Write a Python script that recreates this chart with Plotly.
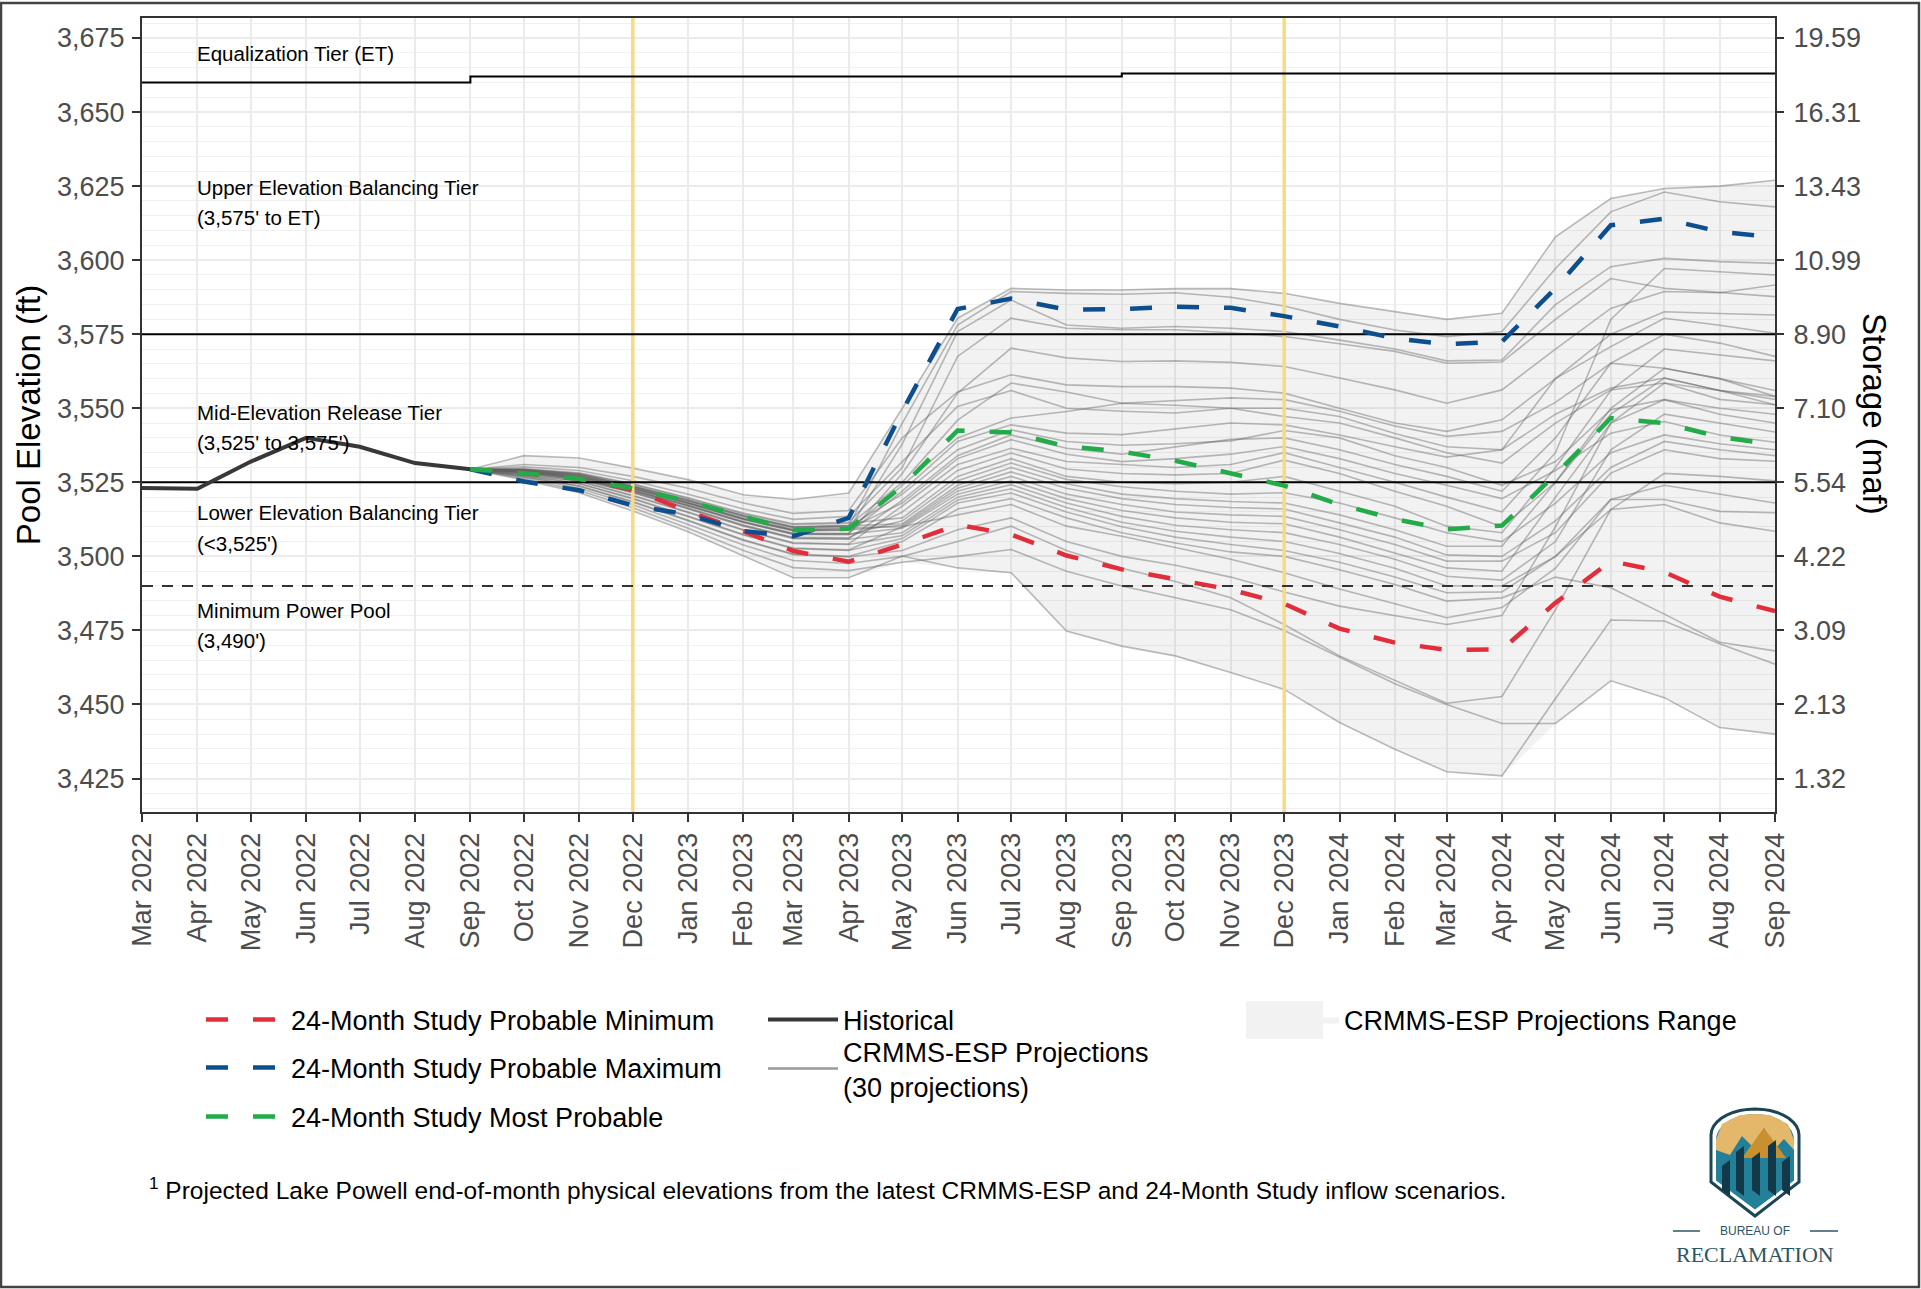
import numpy as np
import pandas as pd
import plotly.graph_objects as go

# ------------------------------------------------------------------ data
months = pd.date_range("2022-03-01", "2024-09-01", freq="MS")
hist_months = months[:7]      # Mar 2022 .. Sep 2022
proj_months = months[6:]      # Sep 2022 .. Sep 2024

historical = [3523.1, 3522.8, 3532.0, 3540.0, 3537.0, 3531.5, 3529.4]

prob_min = [3529.4, 3528.1, 3526.2, 3522.5, 3515.2, 3508.5, 3501.8, 3498.2, 3504.0, 3510.7,
            3507.4, 3500.3, 3495.6, 3492.4, 3488.8, 3484.0, 3475.6, 3470.9, 3468.4, 3468.6,
            3484.3, 3498.4, 3494.7, 3486.4, 3481.5]
prob_max = [3529.4, 3525.3, 3522.3, 3517.2, 3514.1, 3508.5, 3506.8, 3513.0, 3549.0, 3583.5,
            3587.0, 3583.3, 3583.5, 3584.3, 3583.9, 3581.1, 3577.6, 3573.6, 3571.6, 3572.5,
            3590.5, 3611.8, 3614.0, 3609.6, 3607.7]
most_prob = [3529.4, 3528.1, 3526.2, 3522.9, 3518.6, 3513.5, 3508.8, 3509.3, 3523.7, 3542.5,
             3541.8, 3537.1, 3535.4, 3532.3, 3528.1, 3523.9, 3517.5, 3512.6, 3509.1, 3510.4,
             3527.6, 3546.7, 3545.0, 3540.3, 3537.7]

esp_01 = [3529.4, 3534.0, 3533.2, 3529.8, 3525.9, 3520.8, 3519.2, 3521.4, 3550.0, 3580.4, 3590.5, 3589.9, 3589.9, 3590.4, 3590.4, 3588.8, 3585.4, 3582.6, 3580.0, 3582.1, 3607.9, 3620.8, 3624.2, 3625.0, 3627.0]
esp_02 = [3529.4, 3529.2, 3527.6, 3523.6, 3518.8, 3513.6, 3509.8, 3510.2, 3545.0, 3578.1, 3589.4, 3588.8, 3588.5, 3589.0, 3587.5, 3584.5, 3580.0, 3576.4, 3574.2, 3575.9, 3597.2, 3616.3, 3623.0, 3619.7, 3618.0]
esp_03 = [3529.4, 3528.9, 3527.0, 3523.0, 3518.0, 3512.6, 3508.8, 3509.0, 3538.0, 3575.9, 3586.5, 3578.1, 3577.0, 3577.6, 3577.0, 3575.9, 3573.0, 3570.0, 3566.0, 3566.3, 3585.0, 3597.8, 3600.6, 3599.5, 3598.9]
esp_04 = [3529.4, 3529.6, 3528.2, 3524.5, 3519.8, 3514.6, 3511.0, 3511.5, 3530.0, 3567.5, 3580.4, 3577.0, 3576.5, 3576.5, 3575.5, 3574.2, 3571.8, 3569.2, 3565.2, 3565.6, 3580.0, 3593.8, 3590.5, 3589.0, 3587.7]
esp_05 = [3529.4, 3528.5, 3526.5, 3522.3, 3517.2, 3511.6, 3507.6, 3507.6, 3528.0, 3555.1, 3570.3, 3567.0, 3565.8, 3566.0, 3565.5, 3564.1, 3560.2, 3556.2, 3551.7, 3556.2, 3570.0, 3583.7, 3589.4, 3589.0, 3591.6]
esp_06 = [3529.4, 3531.0, 3530.0, 3527.0, 3523.0, 3518.0, 3514.5, 3515.5, 3540.0, 3555.5, 3561.3, 3557.9, 3557.3, 3557.3, 3556.8, 3555.1, 3550.0, 3545.0, 3542.2, 3546.1, 3560.0, 3570.8, 3580.4, 3578.0, 3575.3]
esp_07 = [3529.4, 3529.3, 3527.8, 3523.8, 3519.0, 3513.8, 3510.0, 3510.5, 3525.0, 3546.0, 3558.5, 3555.5, 3551.7, 3552.5, 3553.5, 3552.9, 3549.0, 3544.0, 3540.5, 3542.2, 3552.0, 3565.2, 3563.5, 3560.0, 3556.0]
esp_08 = [3529.4, 3530.2, 3529.0, 3525.5, 3521.0, 3516.0, 3512.5, 3513.5, 3532.0, 3550.6, 3556.0, 3550.0, 3549.0, 3548.4, 3550.0, 3550.0, 3547.2, 3541.5, 3537.0, 3536.0, 3548.0, 3556.8, 3560.2, 3556.0, 3554.0]
esp_09 = [3529.4, 3528.8, 3526.9, 3522.8, 3517.8, 3512.4, 3508.6, 3508.8, 3524.0, 3540.0, 3546.7, 3548.9, 3551.7, 3551.0, 3550.0, 3547.2, 3545.0, 3540.0, 3535.0, 3531.5, 3545.0, 3556.2, 3558.5, 3553.0, 3551.2]
esp_10 = [3529.4, 3528.6, 3526.6, 3522.4, 3517.3, 3511.8, 3507.8, 3507.9, 3522.0, 3538.8, 3544.4, 3541.6, 3541.1, 3543.0, 3545.0, 3544.4, 3541.0, 3537.0, 3533.5, 3536.0, 3560.0, 3575.0, 3582.6, 3582.0, 3581.5]
esp_11 = [3529.4, 3529.1, 3527.5, 3523.5, 3518.6, 3513.4, 3509.6, 3510.0, 3521.0, 3536.0, 3542.7, 3538.8, 3537.5, 3538.0, 3539.0, 3542.5, 3540.0, 3534.0, 3530.0, 3524.0, 3532.0, 3549.5, 3552.9, 3548.0, 3545.0]
esp_12 = [3529.4, 3528.2, 3526.0, 3521.6, 3516.2, 3510.4, 3506.2, 3506.0, 3519.0, 3534.0, 3541.0, 3536.5, 3534.5, 3537.0, 3539.5, 3540.0, 3536.0, 3531.0, 3527.0, 3522.0, 3540.0, 3565.2, 3575.0, 3572.0, 3567.5]
esp_13 = [3529.4, 3529.0, 3527.1, 3523.1, 3518.1, 3512.8, 3509.0, 3509.3, 3518.0, 3533.0, 3539.4, 3534.5, 3532.0, 3533.0, 3534.5, 3537.1, 3533.0, 3528.0, 3524.0, 3519.5, 3529.0, 3541.6, 3545.5, 3541.0, 3538.5]
esp_14 = [3529.4, 3527.8, 3525.4, 3520.6, 3515.0, 3509.0, 3504.6, 3504.2, 3517.0, 3531.0, 3536.5, 3532.0, 3531.0, 3530.0, 3531.0, 3535.0, 3530.0, 3525.0, 3520.0, 3515.0, 3535.0, 3580.0, 3597.2, 3596.0, 3595.0]
esp_15 = [3529.4, 3528.3, 3526.1, 3521.8, 3516.4, 3510.6, 3506.4, 3506.3, 3515.0, 3529.0, 3534.9, 3529.5, 3528.0, 3527.5, 3528.0, 3532.5, 3528.0, 3522.0, 3516.9, 3510.0, 3525.0, 3550.0, 3563.5, 3560.0, 3554.0]
esp_16 = [3529.4, 3529.5, 3528.0, 3524.3, 3519.5, 3514.3, 3510.7, 3511.2, 3513.0, 3527.0, 3533.0, 3527.0, 3525.0, 3524.5, 3525.0, 3527.0, 3522.0, 3516.9, 3510.2, 3508.0, 3530.0, 3556.0, 3570.0, 3568.0, 3566.0]
esp_17 = [3529.4, 3528.4, 3526.4, 3522.1, 3517.0, 3511.4, 3507.4, 3507.3, 3512.0, 3525.5, 3531.5, 3526.0, 3523.5, 3522.0, 3521.0, 3521.5, 3518.0, 3513.0, 3508.0, 3505.0, 3518.0, 3535.0, 3541.0, 3538.0, 3536.0]
esp_18 = [3529.4, 3529.2, 3527.7, 3523.7, 3518.9, 3513.7, 3509.9, 3510.3, 3511.0, 3524.0, 3530.0, 3524.5, 3521.0, 3519.5, 3518.5, 3518.0, 3514.0, 3509.0, 3503.4, 3503.4, 3525.0, 3548.0, 3560.2, 3556.0, 3551.2]
esp_19 = [3529.4, 3528.9, 3526.9, 3522.9, 3517.9, 3512.5, 3508.7, 3508.9, 3510.5, 3523.0, 3528.5, 3523.0, 3519.5, 3517.5, 3516.5, 3516.0, 3511.3, 3506.5, 3500.5, 3500.0, 3512.0, 3530.0, 3538.8, 3536.0, 3534.0]
esp_20 = [3529.4, 3527.4, 3524.6, 3519.6, 3513.6, 3507.4, 3502.8, 3502.2, 3510.0, 3522.0, 3527.0, 3521.0, 3517.5, 3515.0, 3514.0, 3513.5, 3509.0, 3504.0, 3498.4, 3498.4, 3508.0, 3528.1, 3536.0, 3533.0, 3532.1]
esp_21 = [3529.4, 3528.5, 3526.5, 3522.2, 3517.1, 3511.5, 3507.5, 3507.5, 3509.5, 3521.0, 3525.5, 3519.5, 3515.5, 3513.0, 3511.5, 3511.0, 3506.5, 3501.0, 3496.1, 3495.0, 3520.0, 3545.0, 3552.9, 3550.0, 3548.0]
esp_22 = [3529.4, 3528.1, 3525.9, 3521.5, 3516.0, 3510.2, 3506.0, 3505.8, 3508.0, 3520.0, 3524.2, 3518.0, 3513.5, 3510.5, 3509.0, 3508.0, 3504.0, 3499.0, 3493.3, 3492.0, 3505.0, 3536.0, 3548.0, 3545.0, 3542.0]
esp_23 = [3529.4, 3527.7, 3525.3, 3520.4, 3514.8, 3508.8, 3504.4, 3504.0, 3507.0, 3519.0, 3522.8, 3516.5, 3511.5, 3508.5, 3506.5, 3505.0, 3501.0, 3496.0, 3490.0, 3490.0, 3500.0, 3515.8, 3528.0, 3527.0, 3525.5]
esp_24 = [3529.4, 3527.3, 3524.5, 3519.4, 3513.4, 3507.2, 3502.6, 3502.0, 3506.0, 3518.0, 3521.4, 3515.0, 3510.0, 3506.5, 3504.0, 3502.0, 3498.0, 3493.0, 3487.7, 3488.0, 3500.0, 3519.2, 3524.0, 3521.0, 3518.0]
esp_25 = [3529.4, 3527.0, 3523.8, 3518.5, 3512.2, 3505.6, 3500.8, 3500.0, 3505.0, 3516.0, 3519.5, 3513.0, 3508.0, 3504.5, 3501.5, 3500.0, 3495.5, 3490.5, 3484.9, 3486.0, 3493.0, 3489.4, 3480.5, 3471.0, 3468.1]
esp_26 = [3529.4, 3529.0, 3527.2, 3523.2, 3518.2, 3512.9, 3509.1, 3509.5, 3510.0, 3514.0, 3517.5, 3510.2, 3506.8, 3503.0, 3499.0, 3494.5, 3489.0, 3484.0, 3479.3, 3482.7, 3496.0, 3519.2, 3519.2, 3515.2, 3514.7]
esp_27 = [3529.4, 3526.9, 3523.7, 3518.3, 3512.0, 3505.4, 3500.6, 3499.8, 3502.0, 3509.0, 3513.0, 3505.0, 3500.0, 3497.0, 3493.0, 3488.0, 3483.2, 3480.0, 3477.0, 3480.0, 3510.0, 3545.0, 3558.5, 3556.0, 3553.0]
esp_28 = [3529.4, 3526.6, 3523.0, 3517.4, 3510.8, 3503.8, 3498.6, 3497.6, 3500.0, 3505.0, 3510.2, 3502.0, 3496.0, 3491.5, 3486.0, 3477.0, 3466.4, 3458.0, 3450.4, 3452.7, 3482.0, 3515.8, 3517.5, 3511.3, 3508.5]
esp_29 = [3529.4, 3526.2, 3522.2, 3516.4, 3509.5, 3502.0, 3496.2, 3495.2, 3498.0, 3500.0, 3502.3, 3495.0, 3490.0, 3486.0, 3482.0, 3475.0, 3466.0, 3457.0, 3450.0, 3443.6, 3443.6, 3458.0, 3452.3, 3442.2, 3440.0]
esp_30 = [3529.4, 3525.8, 3521.5, 3515.3, 3508.3, 3500.1, 3492.8, 3492.8, 3500.1, 3496.1, 3494.5, 3474.8, 3469.7, 3466.4, 3460.8, 3455.1, 3443.9, 3434.9, 3427.3, 3425.9, 3452.0, 3478.5, 3478.2, 3470.5, 3463.6]

esp_runs = [esp_01, esp_02, esp_03, esp_04, esp_05, esp_06, esp_07, esp_08, esp_09, esp_10,
            esp_11, esp_12, esp_13, esp_14, esp_15, esp_16, esp_17, esp_18, esp_19, esp_20,
            esp_21, esp_22, esp_23, esp_24, esp_25, esp_26, esp_27, esp_28, esp_29, esp_30]

et_dates = ["2022-03-01", "2022-09-01", "2023-09-01", "2024-09-01"]
et_elev = [3660, 3662, 3663, 3663]
upper_tier = 3575
lower_tier = 3525
min_power_pool = 3490

elev_ticks = [3425, 3450, 3475, 3500, 3525, 3550, 3575, 3600, 3625, 3650, 3675]
storage_ticks = ["1.32", "2.13", "3.09", "4.22", "5.54", "7.10", "8.90", "10.99", "13.43", "16.31", "19.59"]
year_marks = ["2022-12-01", "2023-12-01"]

# ------------------------------------------------------------------ layout helpers
W, H = 1921, 1289
L, R, T, B = 142, 1775, 18, 812          # plot area in pixels


def px(X):
    return (X - L) / (R - L)


def py(Y):
    return (B - Y) / (B - T)


FONT = "Liberation Sans, Arial, Helvetica, sans-serif"
Y_RANGE = [3413.7, 3681.75]
X_RANGE = [months[0], months[-1]]

RED, BLUE, GREEN = "#E02F3B", "#0D4F8E", "#22AB48"
DASH = "22px,25px"

fig = go.Figure()

# projections range band
runs = np.array(esp_runs)
upper = runs.max(axis=0)
lower = runs.min(axis=0)
fig.add_trace(go.Scatter(
    x=list(proj_months) + list(proj_months[::-1]),
    y=list(upper) + list(lower[::-1]),
    fill="toself", fillcolor="rgba(128,128,128,0.10)",
    line=dict(width=0, color="rgba(0,0,0,0)"),
    mode="lines", showlegend=False, hoverinfo="skip"))
# legend entry for the band (no data of its own)
fig.add_trace(go.Scatter(x=[None], y=[None], fill="toself", fillcolor="#F2F2F2",
                         line=dict(width=0, color="rgba(0,0,0,0)"), mode="lines",
                         name="CRMMS-ESP Projections Range", legend="legend6",
                         hoverinfo="skip"))

# individual CRMMS-ESP runs
for run in esp_runs:
    fig.add_trace(go.Scatter(
        x=proj_months, y=run, mode="lines",
        line=dict(color="rgba(95,95,95,0.42)", width=1.6),
        showlegend=False, hoverinfo="skip"))
# legend key for the runs (no data of its own)
fig.add_trace(go.Scatter(x=[None], y=[None], mode="lines",
                         line=dict(color="#9A9A9A", width=2.5),
                         name="CRMMS-ESP Projections<br>(30 projections)", legend="legend5",
                         hoverinfo="skip"))

# December markers
for d in year_marks:
    fig.add_trace(go.Scatter(x=[d, d], y=Y_RANGE, mode="lines",
                             line=dict(color="#F8DA80", width=3.5),
                             showlegend=False, hoverinfo="skip"))

# tier lines
fig.add_trace(go.Scatter(x=et_dates, y=et_elev, mode="lines", line_shape="hv",
                         line=dict(color="black", width=2), showlegend=False, hoverinfo="skip"))
for lvl in (upper_tier, lower_tier):
    fig.add_trace(go.Scatter(x=X_RANGE, y=[lvl, lvl], mode="lines",
                             line=dict(color="black", width=2),
                             showlegend=False, hoverinfo="skip"))
fig.add_trace(go.Scatter(x=X_RANGE, y=[min_power_pool, min_power_pool], mode="lines",
                         line=dict(color="#333333", width=2, dash="11px,9px"),
                         showlegend=False, hoverinfo="skip"))

# historical
fig.add_trace(go.Scatter(x=hist_months, y=historical, mode="lines",
                         line=dict(color="#383838", width=4),
                         name="Historical", legend="legend4", hoverinfo="skip"))

# 24-Month Study
fig.add_trace(go.Scatter(x=proj_months, y=prob_min, mode="lines",
                         line=dict(color=RED, width=4.5, dash=DASH),
                         name="24-Month Study Probable Minimum", legend="legend", hoverinfo="skip"))
fig.add_trace(go.Scatter(x=proj_months, y=prob_max, mode="lines",
                         line=dict(color=BLUE, width=4.5, dash=DASH),
                         name="24-Month Study Probable Maximum", legend="legend2", hoverinfo="skip"))
fig.add_trace(go.Scatter(x=proj_months, y=most_prob, mode="lines",
                         line=dict(color=GREEN, width=4.5, dash=DASH),
                         name="24-Month Study Most Probable", legend="legend3", hoverinfo="skip"))

# invisible trace so the storage axis is drawn
fig.add_trace(go.Scatter(x=hist_months[:1], y=historical[:1], yaxis="y2", mode="markers",
                         marker=dict(opacity=0), showlegend=False, hoverinfo="skip"))

# ------------------------------------------------------------------ axes
tickfont = dict(family=FONT, size=27, color="#4D4D4D")
fig.update_layout(
    width=W, height=H,
    margin=dict(l=L, r=W - R, t=T, b=H - B, pad=0),
    paper_bgcolor="white", plot_bgcolor="white",
    font=dict(family=FONT, color="black"),
    hovermode=False,
    xaxis=dict(
        type="date", range=X_RANGE, tickmode="linear", tick0=months[0], dtick="M1",
        tickformat="%b %Y", tickangle=-90, tickfont=tickfont,
        showgrid=True, gridcolor="#EBEBEB", gridwidth=2,
        showline=True, mirror=True, linecolor="#333333", linewidth=2,
        ticks="outside", ticklen=8, tickwidth=2, tickcolor="#333333",
        zeroline=False),
    yaxis=dict(
        range=Y_RANGE, tickmode="array", tickvals=elev_ticks, tickformat=",d",
        tickfont=tickfont, showgrid=True, gridcolor="#EBEBEB", gridwidth=2,
        minor=dict(tickmode="linear", tick0=3425, dtick=5, showgrid=True,
                   gridcolor="#F0F0F0", gridwidth=1.2, ticks=""),
        showline=True, mirror=True, linecolor="#333333", linewidth=2,
        ticks="outside", ticklen=8, tickwidth=2, tickcolor="#333333",
        ticklabelstandoff=2, zeroline=False,
        title=dict(text="Pool Elevation (ft)", font=dict(family=FONT, size=33, color="black"),
                   standoff=6)),
    yaxis2=dict(
        overlaying="y", side="right", range=Y_RANGE, tickmode="array",
        tickvals=elev_ticks, ticktext=storage_ticks, tickfont=tickfont,
        showgrid=False, zeroline=False, showline=False,
        ticks="outside", ticklen=8, tickwidth=2, tickcolor="#333333",
        ticklabelstandoff=4),
)

# ------------------------------------------------------------------ legends
leg_font = dict(family=FONT, size=27, color="black")


def legend_at(xpix, ypix, iw=80):
    return dict(x=px(xpix), y=py(ypix), xanchor="left", yanchor="middle",
                xref="paper", yref="paper", bgcolor="rgba(0,0,0,0)",
                borderwidth=0, font=leg_font, itemwidth=iw, valign="middle")


fig.update_layout(
    legend=legend_at(201, 1020),
    legend2=legend_at(201, 1068),
    legend3=legend_at(201, 1117),
    legend4=legend_at(763, 1020, 70),
    legend5=legend_at(763, 1069, 70),
    legend6=legend_at(1254, 1020),
)

# ------------------------------------------------------------------ annotations
tier_labels = [
    ("Equalization Tier (ET)", 3669.6),
    ("Upper Elevation Balancing Tier", 3624.4),
    ("(3,575' to ET)", 3614.3),
    ("Mid-Elevation Release Tier", 3548.6),
    ("(3,525' to 3,575')", 3538.5),
    ("Lower Elevation Balancing Tier", 3514.7),
    ("(<3,525')", 3504.3),
    ("Minimum Power Pool", 3481.8),
    ("(3,490')", 3471.7),
]
for txt, yv in tier_labels:
    fig.add_annotation(x=months[1], y=yv, xref="x", yref="y", text=txt, showarrow=False,
                       xanchor="left", yanchor="middle", xshift=-2,
                       font=dict(family=FONT, size=20.5, color="black"))

fig.add_annotation(x=px(1874), y=py(414), xref="paper", yref="paper", text="Storage (maf)",
                   textangle=90, showarrow=False, xanchor="center", yanchor="middle",
                   font=dict(family=FONT, size=33, color="black"))

fig.add_annotation(x=px(147), y=py(1188), xref="paper", yref="paper",
                   text="<sup>1</sup> Projected Lake Powell end-of-month physical elevations from the latest CRMMS-ESP and 24-Month Study inflow scenarios.",
                   showarrow=False, xanchor="left", yanchor="middle",
                   font=dict(family=FONT, size=24.5, color="black"))

# legend key box for the range entry
shapes = [dict(type="rect", xref="paper", yref="paper",
               x0=px(1246), x1=px(1323), y0=py(1039), y1=py(1001),
               fillcolor="#F2F2F2", line=dict(width=0), layer="below")]

# outer frame
shapes.append(dict(type="rect", xref="paper", yref="paper",
                   x0=px(1), x1=px(1919), y0=py(1287), y1=py(3),
                   line=dict(color="#444444", width=2.5), fillcolor="rgba(0,0,0,0)"))


# logo (simplified Bureau of Reclamation shield)
def path(points, close=True):
    s = "M " + " L ".join(f"{px(a):.5f},{py(b):.5f}" for a, b in points)
    return s + (" Z" if close else "")


def shield(inset):
    import math
    pts = []
    cx, top, lft, rgt = 1755, 1109 + inset, 1711 + inset, 1799 - inset
    for k in range(0, 19):
        ang = math.pi - k * math.pi / 18
        pts.append((cx + (rgt - cx) * math.cos(ang), top + 26 - 26 * math.sin(ang)))
    pts += [(rgt, 1182 - inset * 0.3), (cx, 1216 - inset * 1.3), (lft, 1182 - inset * 0.3)]
    return pts


shapes.append(dict(type="path", xref="paper", yref="paper", path=path(shield(0)),
                   fillcolor="white", line=dict(color="#1D4655", width=3)))
shapes.append(dict(type="path", xref="paper", yref="paper", path=path(shield(5)),
                   fillcolor="#247F98", line=dict(width=0)))
shapes.append(dict(type="path", xref="paper", yref="paper",
                   path=path([(1716, 1140), (1722, 1124), (1740, 1115), (1755, 1114), (1770, 1115),
                              (1788, 1124), (1794, 1140), (1794, 1150), (1784, 1139), (1774, 1150),
                              (1764, 1128), (1752, 1146), (1742, 1136), (1730, 1155), (1716, 1150)]),
                   fillcolor="#E3B86A", line=dict(width=0)))
shapes.append(dict(type="path", xref="paper", yref="paper",
                   path=path([(1742, 1158), (1764, 1128), (1786, 1158)]),
                   fillcolor="#C8902E", line=dict(width=0)))
for xb, ytop in [(1722, 1160), (1736, 1146), (1752, 1152), (1768, 1140), (1782, 1156)]:
    shapes.append(dict(type="path", xref="paper", yref="paper",
                       path=path([(xb, ytop + 6), (xb + 8, ytop), (xb + 8, 1196), (xb, 1190)]),
                       fillcolor="#12394A", line=dict(width=0)))
for xa, xb2 in [(1673, 1700), (1810, 1838)]:
    shapes.append(dict(type="line", xref="paper", yref="paper",
                       x0=px(xa), x1=px(xb2), y0=py(1231), y1=py(1231),
                       line=dict(color="#2C5566", width=1.5)))
fig.update_layout(shapes=shapes)

fig.add_annotation(x=px(1755), y=py(1231), xref="paper", yref="paper", text="BUREAU OF",
                   showarrow=False, xanchor="center", yanchor="middle",
                   font=dict(family=FONT, size=12, color="#2C5566"))
fig.add_annotation(x=px(1755), y=py(1254), xref="paper", yref="paper", text="RECLAMATION",
                   showarrow=False, xanchor="center", yanchor="middle",
                   font=dict(family="Liberation Serif, Times New Roman, serif", size=22,
                             color="#2C5566"))

fig.write_html("out.html", config={"displayModeBar": False},
               post_script="document.body.style.margin='0';")
